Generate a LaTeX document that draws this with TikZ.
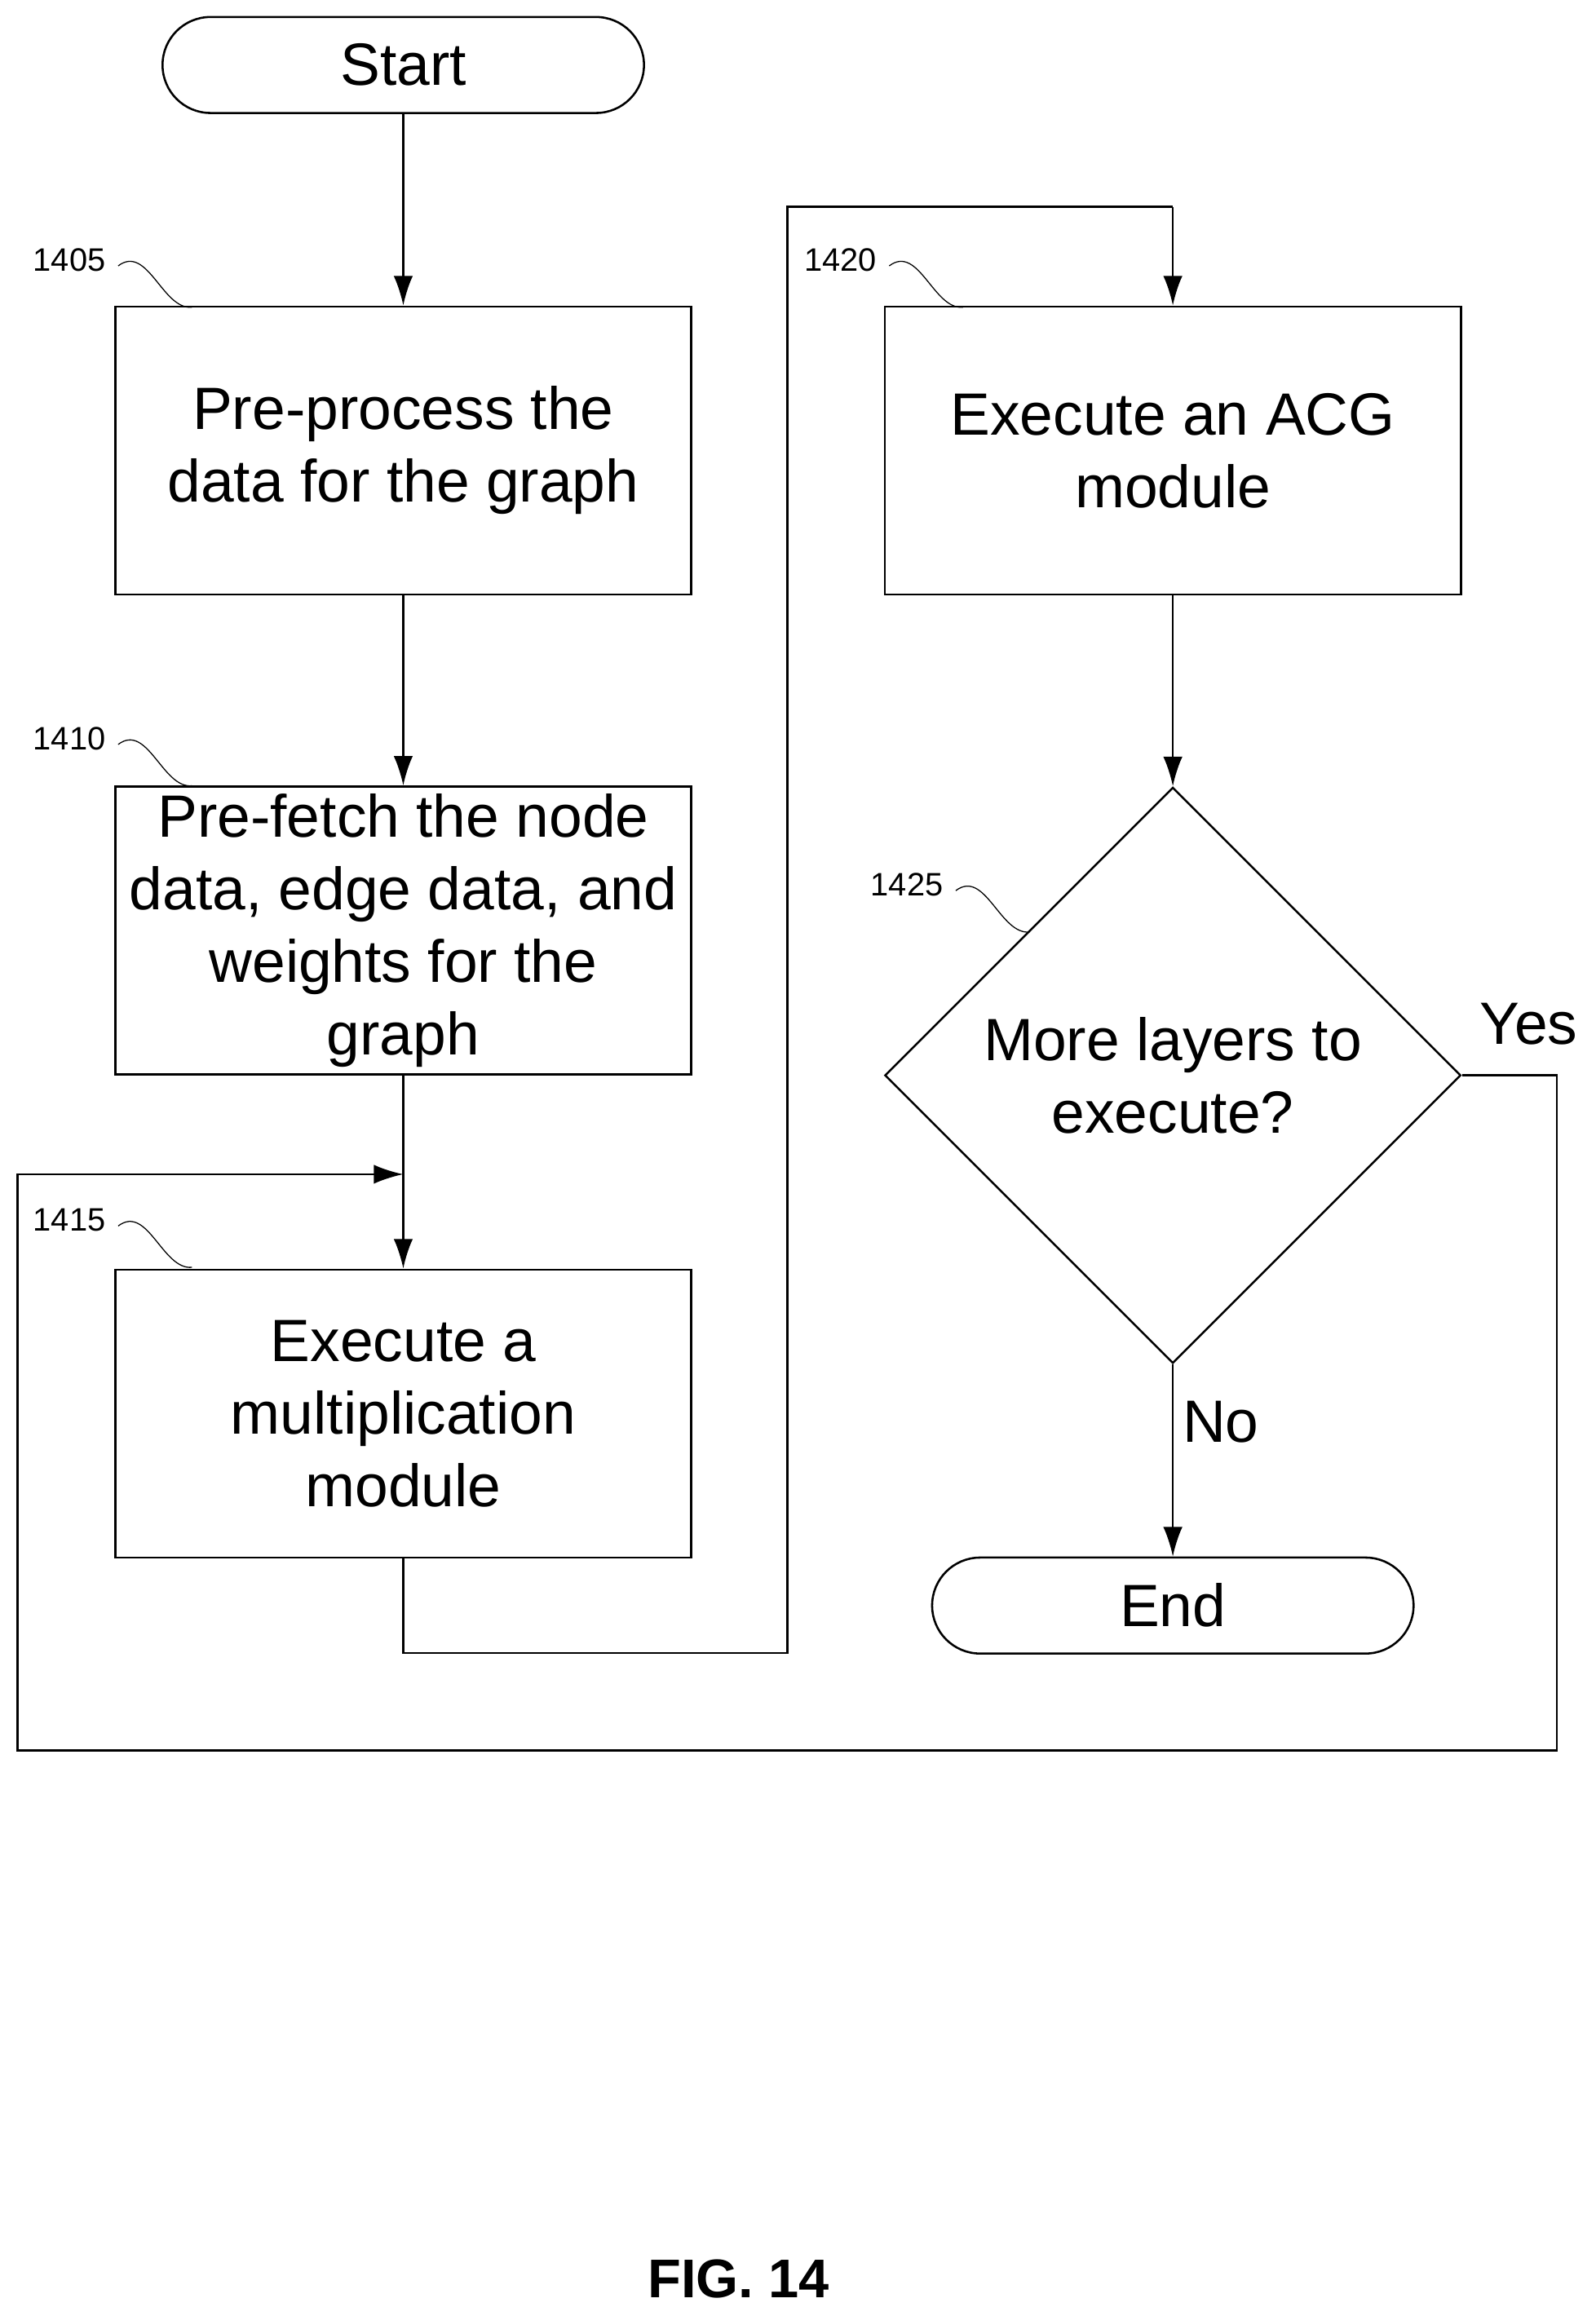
\documentclass[tikz,border=0pt]{standalone}
\usepackage{fontspec}
\setmainfont{Liberation Sans}
\usetikzlibrary{arrows.meta,positioning,shapes.geometric}
\tikzset{
  procbox/.style={draw, thick, minimum width=7.8cm, minimum height=3.9cm, align=center, font=\fontsize{23}{28}\selectfont, inner sep=1pt},
  term/.style={draw, thick, rounded corners=0.65cm, minimum width=6.52cm, minimum height=1.3cm, font=\fontsize{23}{28}\selectfont},
  dec/.style={draw, thick, diamond, minimum width=7.8cm, minimum height=7.8cm, align=center, font=\fontsize{23}{28}\selectfont, inner sep=0pt},
  ref/.style={font=\fontsize{12.5}{15}\selectfont},
  lead/.style={thin},
  flow/.style={thick, -{Latex[length=4mm, width=2.6mm]}},
  line/.style={thick}
}
\begin{document}
\begin{tikzpicture}[x=0.02cm, y=-0.02cm]
\useasboundingbox (0,0) rectangle (1080,1568);
% Nodes
\node[term] (start) at (273,44) {Start};
\node[procbox] (pre) at (273,305) {Pre-process the\\data for the graph};
\node[procbox] (fetch) at (273,630) {Pre-fetch the node\\data, edge data, and\\weights for the\\graph};
\node[procbox] (mult) at (273,957) {Execute a\\multiplication\\module};
\node[procbox] (acg) at (794,305) {Execute an ACG\\module};
\node[dec] (more) at (794,728) {More layers to\\execute?};
\node[term] (end) at (794,1087) {End};
% Reference numerals
\node[ref] (r1405) at (47,176) {1405};
\node[ref] (r1410) at (47,500) {1410};
\node[ref] (r1415) at (47,826) {1415};
\node[ref] (r1420) at (569,176) {1420};
\node[ref] (r1425) at (614,599) {1425};
\draw[lead] (80,180) .. controls (100,165) and (110,210) .. (130,208);
\draw[lead] (80,504) .. controls (100,489) and (110,534) .. (130,532);
\draw[lead] (80,830) .. controls (100,815) and (110,860) .. (130,858);
\draw[lead] (602,180) .. controls (622,165) and (632,210) .. (652,208);
\draw[lead] (647,603) .. controls (667,588) and (677,633) .. (697,631);
% Connectors
\coordinate (loopin) at (273,795);
\draw[flow] (start) -- (pre);
\draw[flow] (pre) -- (fetch);
\draw[flow] (fetch) -- (mult);
\draw[line] (mult.south) |- (533,1119) |- (794,140) coordinate (top);
\draw[flow] (top) -- (acg);
\draw[flow] (acg) -- (more);
\draw[flow] (more) -- node[pos=0.3, right, font=\fontsize{23}{28}\selectfont] {No} (end);
\draw[line] (more.east) -- (1054,728) |- (12,1185) |- (255,795);
\draw[flow] (255,795) -- (loopin);
\node[font=\fontsize{23}{28}\selectfont] (yes) at (1035,693) {Yes};
\node[font=\bfseries\fontsize{21}{25}\selectfont] (fig) at (500,1543) {FIG. 14};
\end{tikzpicture}
\end{document}
